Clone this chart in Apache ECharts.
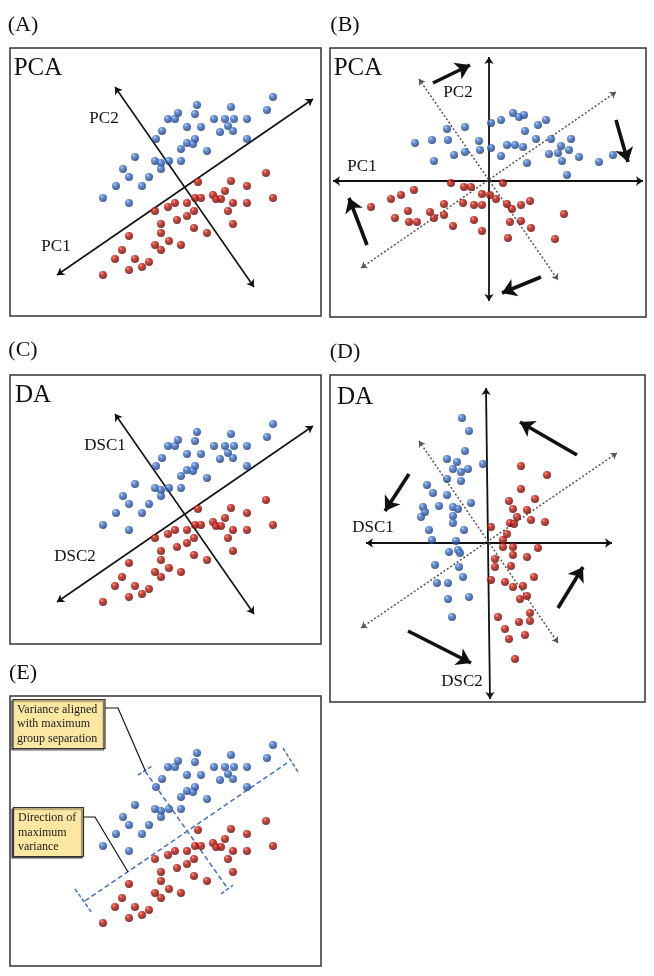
<!DOCTYPE html>
<html><head><meta charset="utf-8">
<script src="https://cdn.jsdelivr.net/npm/echarts@6/dist/echarts.min.js"></script>
<style>html,body{margin:0;padding:0;background:#fff}#c{width:654px;height:976px}</style>
</head><body><div id="c"></div>
<script>
// ---- Data (arbitrary score units, origin at axis intersection) ----
const setABlue = [[89,90],[83,77],[13,82],[47,80],[-6,74],[-16,68],[-9,68],[11,73],[30,68],[41,68],[50,68],[63,68],[3,60],[17,60],[44,61],[36,55],[49,56],[-22,56],[-28,48],[3,44],[11,48],[9,43],[-3,38],[23,36],[63,48],[-49,30],[-29,26],[-23,24],[-15,26],[-3,26],[-23,18],[-61,18],[-55,10],[-35,10],[-68,1],[-42,1],[-81,-11],[-55,-16]];
const setARed = [[82,14],[14,5],[47,6],[63,1],[41,-4],[29,-8],[32,-12],[37,-12],[11,-11],[17,-11],[3,-16],[-9,-16],[-16,-20],[-29,-24],[10,-24],[3,-29],[-7,-33],[49,-16],[63,-16],[89,-11],[44,-24],[-23,-37],[49,-37],[10,-41],[23,-46],[-23,-46],[-55,-49],[-15,-54],[-29,-58],[-23,-63],[-3,-58],[-62,-63],[-69,-72],[-49,-72],[-35,-75],[-42,-80],[-55,-83],[-81,-88]];
const setBBlue = [[24,68],[30,64],[35,66],[2,58],[12,61],[49,56],[57,61],[-42,52],[-24,54],[36,50],[-74,38],[-57,41],[-41,41],[-10,40],[-9,31],[2,33],[18,36],[26,36],[34,34],[47,42],[62,42],[82,42],[72,35],[80,31],[-35,26],[-24,29],[12,25],[38,18],[60,27],[69,28],[73,20],[90,24],[110,19],[124,26],[-55,20],[78,6]];
const setBRed = [[-38,-2],[-25,-6],[-18,-6],[14,-2],[-75,-9],[-88,-14],[-98,-18],[-118,-26],[-45,-23],[-7,-13],[1,-14],[7,-18],[-26,-22],[-15,-24],[-7,-24],[18,-23],[23,-28],[32,-24],[41,-20],[-81,-30],[-94,-37],[-59,-31],[-55,-37],[-45,-34],[-80,-41],[-72,-41],[-36,-45],[-15,-39],[-7,-50],[21,-41],[32,-40],[42,-47],[75,-33],[19,-57],[66,-58]];
const setDBlue = [[-25,125],[-18,112],[-22,92],[-40,84],[-30,81],[-4,79],[-34,74],[-26,71],[-19,74],[-40,64],[-26,62],[-60,58],[-54,50],[-40,48],[-64,36],[-48,37],[-34,36],[-29,34],[-16,40],[-62,31],[-66,26],[-34,27],[-34,20],[-23,13],[-58,13],[-55,3],[-31,2],[-38,-9],[-29,-7],[-27,-10],[-52,-22],[-28,-24],[-24,-34],[-50,-40],[-39,-40],[-39,-56],[-18,-54],[-35,-74]];
const setDRed = [[34,77],[60,68],[34,54],[22,42],[48,44],[26,34],[40,33],[30,26],[23,20],[27,19],[44,23],[58,21],[4,16],[20,9],[16,3],[16,-4],[26,-4],[51,-5],[26,-12],[40,-14],[8,-16],[8,-24],[24,-23],[47,-34],[4,-37],[18,-39],[26,-44],[36,-43],[33,-56],[40,-53],[43,-70],[11,-74],[32,-79],[43,-78],[18,-86],[38,-92],[22,-96],[28,-116]];

// Axis / direction segments (same units)
const axesAC = [[[-127,-88],[129,88]],[[-69,100],[70,-100]]];
const axesB = [[[-156,0],[154,0]],[[0,124],[0,-120]]];
const dottedB = [[[-128,-87],[127,89]],[[-70,102],[69,-99]]];
const thickB = [[[-56,98],[-19,116]],[[127,61],[139,19]],[[-122,-64],[-140,-17]],[[52,-96],[13,-112]]];
const axesD = [[[-121,0],[125,0]],[[-1,155],[3,-156]]];
const dottedD = [[[-126,-85],[130,90]],[[-68,102],[71,-100]]];
const thickD = [[[90,88],[33,121]],[[-78,69],[-102,32]],[[71,-65],[96,-24]],[[-79,-88],[-16,-120]]];
const dashedE = [[[-99,-66],[103,72]],[[-39,64],[44,-54]]];
const capsE = [[[-109,-54],[-92,-78]],[[99,87],[114,63]],[[-46,60],[-32,69]],[[37,-59],[49,-50]]];
const leadersE = [[[-79,127],[-66,127],[-39,65]],[[-101,18],[-89,18],[-56,-37]]];

// Panel extents
const panelRanges = [
  {x:[-174,137], y:[-129,139]},
  {x:[-159,157], y:[-136,133]},
  {x:[-174,137], y:[-130,139]},
  {x:[-157,158], y:[-159,168]},
  {x:[-174,137], y:[-131,139]}
];

const SERIF = '"Liberation Serif", "Times New Roman", serif';
const blueFill = {type:'radial',x:0.35,y:0.3,r:0.75,colorStops:[{offset:0,color:'#a9c9f7'},{offset:0.3,color:'#3f74cf'},{offset:1,color:'#17336e'}]};
const redFill = {type:'radial',x:0.35,y:0.3,r:0.75,colorStops:[{offset:0,color:'#f38c7c'},{offset:0.3,color:'#c9170c'},{offset:1,color:'#5c0502'}]};

const gridsPx = [
  {left:10, top:48, width:311, height:268},
  {left:330, top:48, width:316, height:269},
  {left:10, top:375, width:311, height:269},
  {left:330, top:375, width:315, height:327},
  {left:10, top:696, width:311, height:270}
];

const series = [];
function scatter(g, data, fill){
  series.push({type:'scatter', xAxisIndex:g, yAxisIndex:g, data:data, symbolSize:8, z:5,
    itemStyle:{color:fill}, silent:true});
}
function lines(g, segs, opt){
  series.push({type:'lines', coordinateSystem:'cartesian2d', xAxisIndex:g, yAxisIndex:g,
    polyline: !!opt.polyline, z: opt.z || 3, silent:true,
    symbol: opt.symbol || ['none','none'], symbolSize: opt.symbolSize || 6,
    lineStyle:{color:opt.color||'#111', width:opt.width||1.4, type:opt.type||'solid', opacity:1},
    data: segs.map(s => ({coords:s}))});
}
const twoArrows = ['arrow','arrow'];
// A
lines(0, axesAC, {symbol:twoArrows, symbolSize:7, width:1.6});
scatter(0, setABlue, blueFill); scatter(0, setARed, redFill);
// B
lines(1, axesB, {symbol:twoArrows, symbolSize:7, width:1.8});
lines(1, dottedB, {symbol:twoArrows, symbolSize:6, width:1.5, color:'#555', type:[2,2]});
lines(1, thickB, {symbol:['none','arrow'], symbolSize:[1,14], width:3.6, z:6});
scatter(1, setBBlue, blueFill); scatter(1, setBRed, redFill);
// C
lines(2, axesAC, {symbol:twoArrows, symbolSize:7, width:1.6});
scatter(2, setABlue, blueFill); scatter(2, setARed, redFill);
// D
lines(3, axesD, {symbol:twoArrows, symbolSize:7, width:1.8});
lines(3, dottedD, {symbol:twoArrows, symbolSize:6, width:1.5, color:'#555', type:[2,2]});
lines(3, thickD, {symbol:['none','arrow'], symbolSize:[1,14], width:3.6, z:6});
scatter(3, setDBlue, blueFill); scatter(3, setDRed, redFill);
// E
lines(4, dashedE, {width:1.5, color:'#3f72c4', type:[5,3]});
lines(4, capsE, {width:1.5, color:'#3f72c4', type:[4,2]});
lines(4, leadersE, {polyline:true, width:1.2, color:'#111', z:7});
scatter(4, setABlue, blueFill); scatter(4, setARed, redFill);

function txt(x, y, s, size){
  return {type:'text', x:x, y:y, z:20, style:{text:s, font: size+'px '+SERIF, fill:'#111',
    align:'center', verticalAlign:'middle', textAlign:'center', textVerticalAlign:'middle'}};
}
const graphic = [
  txt(23,25,'(A)',22), txt(345,25,'(B)',22), txt(23,350,'(C)',22), txt(345,352,'(D)',22), txt(23,673,'(E)',22),
  txt(38,68,'PCA',25), txt(358,68,'PCA',25), txt(33,395,'DA',25), txt(355,397,'DA',25),
  txt(104,119,'PC2',17), txt(56,247,'PC1',17), txt(458,93,'PC2',17), txt(362,167,'PC1',17),
  txt(105,446,'DSC1',17), txt(75,557,'DSC2',17), txt(373,528,'DSC1',17), txt(462,682,'DSC2',17),
  {type:'rect', z:30, shape:{x:13,y:699.5,width:92,height:49}, style:{fill:'#fbe6a2', stroke:'#333', lineWidth:1.2, shadowColor:'rgba(0,0,0,0.6)', shadowOffsetX:-1.5, shadowOffsetY:1.5, shadowBlur:1}},
  {type:'text', z:31, x:17, y:702.5, style:{text:'Variance aligned\nwith maximum\ngroup separation', font:'12px '+SERIF, lineHeight:14.5, fill:'#222'}},
  {type:'rect', z:30, shape:{x:13.5,y:807.5,width:70,height:49}, style:{fill:'#fbe6a2', stroke:'#333', lineWidth:1.2, shadowColor:'rgba(0,0,0,0.6)', shadowOffsetX:-1.5, shadowOffsetY:1.5, shadowBlur:1}},
  {type:'text', z:31, x:18, y:811, style:{text:'Direction of\nmaximum\nvariance', font:'12px '+SERIF, lineHeight:14.5, fill:'#222'}}
];

const option = {
  animation:false,
  backgroundColor:'#fff',
  grid: gridsPx.map(g => Object.assign({show:true, borderColor:'#333', borderWidth:1.5, backgroundColor:'#fff', containLabel:false}, g)),
  xAxis: panelRanges.map((r,i) => ({type:'value', gridIndex:i, min:r.x[0], max:r.x[1], show:false})),
  yAxis: panelRanges.map((r,i) => ({type:'value', gridIndex:i, min:r.y[0], max:r.y[1], show:false})),
  series: series,
  graphic: graphic
};
const chart = echarts.init(document.getElementById('c'), null, {renderer:'canvas'});
chart.setOption(option);
</script></body></html>
